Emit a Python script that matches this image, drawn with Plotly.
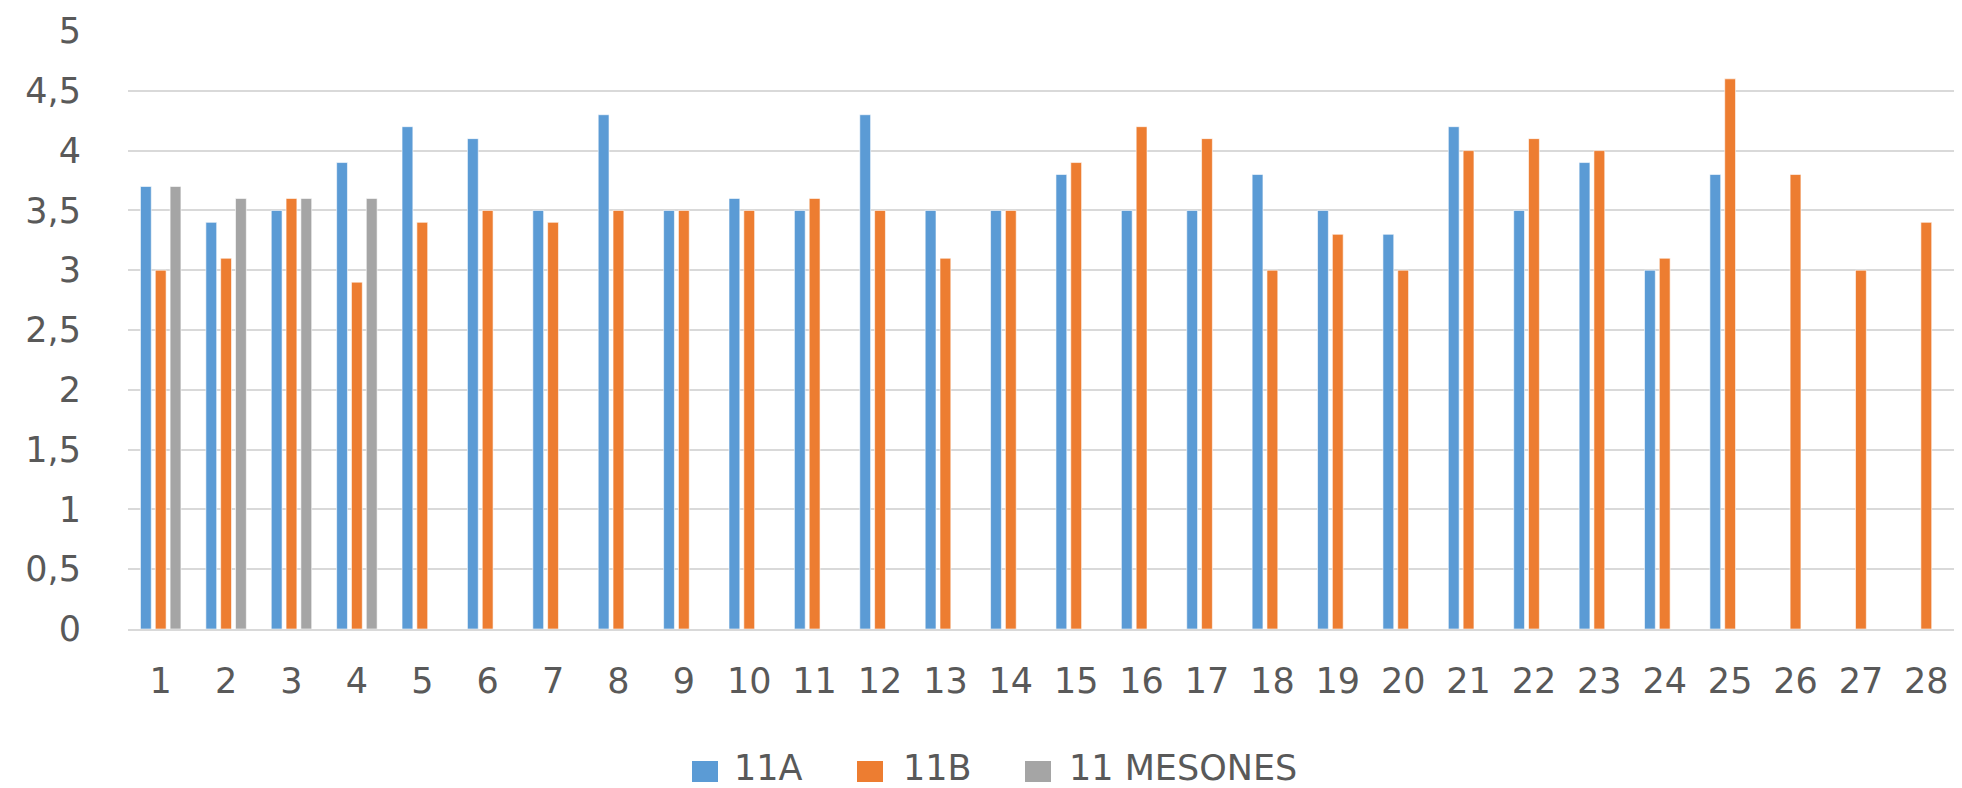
import plotly.graph_objects as go

categories = [str(i) for i in range(1, 29)]

# series values (None = no bar)
vals_11a = [3.7, 3.4, 3.5, 3.9, 4.2, 4.1, 3.5, 4.3, 3.5, 3.6, 3.5, 4.3, 3.5, 3.5,
            3.8, 3.5, 3.5, 3.8, 3.5, 3.3, 4.2, 3.5, 3.9, 3.0, 3.8, None, None, None]
vals_11b = [3.0, 3.1, 3.6, 2.9, 3.4, 3.5, 3.4, 3.5, 3.5, 3.5, 3.6, 3.5, 3.1, 3.5,
            3.9, 4.2, 4.1, 3.0, 3.3, 3.0, 4.0, 4.1, 4.0, 3.1, 4.6, 3.8, 3.0, 3.4]
vals_mesones = [3.7, 3.6, 3.6, 3.6] + [None] * 24

series_names = ["11A", "11B", "11 MESONES"]
series_vals = [vals_11a, vals_11b, vals_mesones]
series_colors = ["#5b9bd5", "#ed7d31", "#a5a5a5"]

# page body has an 8px margin, so the figure is 8px smaller than the window
W, H = 1954, 780
L, R, T, B = 120, 3, 23, 159
pw, ph = W - L - R, H - T - B

fig = go.Figure()
for name, vals, color in zip(series_names, series_vals, series_colors):
    fig.add_trace(go.Bar(
        x=categories,
        y=vals,
        name=name,
        marker=dict(color=color, line=dict(color="white", width=0.6)),
        showlegend=False,
    ))

tick_font = dict(family="DejaVu Sans, sans-serif", size=35, color="#595959")
legend_font = dict(family="DejaVu Sans, sans-serif", size=35, color="#595959")

# legend drawn by hand (Excel style: big square swatches), pixel -> paper coords
def px_x(x):
    return (x - L) / pw

def px_y(y):
    return (H - B - y) / ph

swatch_left = [684, 849, 1017]
text_left = [725, 894, 1060]
for name, color, sx, tx in zip(series_names, series_colors, swatch_left, text_left):
    fig.add_shape(type="rect", xref="paper", yref="paper",
                  x0=px_x(sx), x1=px_x(sx + 26), y0=px_y(774), y1=px_y(753),
                  fillcolor=color, line=dict(width=0))
    fig.add_annotation(text=name, xref="paper", yref="paper",
                       x=px_x(tx), y=px_y(760), xanchor="left", yanchor="middle",
                       borderpad=0,
                       showarrow=False, font=legend_font)

fig.update_layout(
    width=W,
    height=H,
    margin=dict(l=L, r=R, t=T, b=B),
    paper_bgcolor="white",
    plot_bgcolor="white",
    barmode="group",
    bargap=0.32,
    bargroupgap=0.27,
    separators=",.",
    font=tick_font,
    showlegend=False,
)

fig.update_xaxes(
    type="category",
    showgrid=False,
    showline=True,
    linecolor="#d9d9d9",
    linewidth=1.5,
    ticks="",
    ticklabelstandoff=20,
    tickfont=tick_font,
)
fig.update_yaxes(
    range=[0, 5],
    dtick=0.5,
    showgrid=True,
    gridcolor="#d9d9d9",
    gridwidth=1.5,
    zeroline=False,
    showline=False,
    ticks="",
    ticklabelstandoff=46,
    tickfont=tick_font,
)

fig.write_html("out.html")
